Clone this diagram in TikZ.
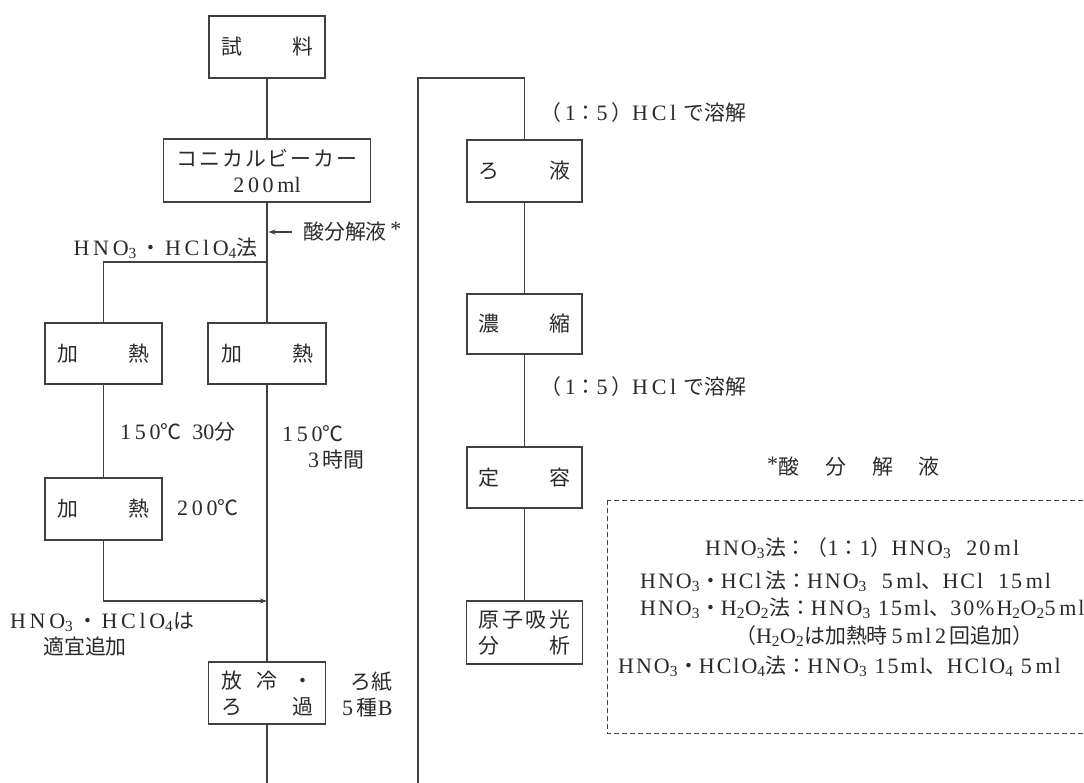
\documentclass[tikz,border=0pt]{standalone}
\usepackage{fontspec}
\setmainfont{Liberation Serif}
\newfontfamily\lsfont{Liberation Serif}[LetterSpace=9]
\newfontfamily\jpfont{Noto Sans CJK JP}[Scale=0.95]
\newcommand\J[1]{{\jpfont #1}}
\newcommand\gp{\hspace{2pt}}
\usetikzlibrary{arrows.meta,calc}
\definecolor{ink}{HTML}{404040}
\definecolor{txt}{HTML}{2A2A2A}
\tikzset{
  box/.style={draw=ink, line width=1.1pt, rectangle, inner sep=0pt, minimum width=117pt, minimum height=62pt, text=txt, align=center, font=\fontsize{22}{26}\selectfont},
  lbl/.style={text=txt, inner sep=0pt, font=\fontsize{22}{26}\selectfont},
  note/.style={lbl, font=\fontsize{22}{26}\lsfont},
  conn/.style={draw=ink, line width=1.1pt},
  arr/.style={conn, -{Stealth[length=7pt,width=5pt]}},
}
\begin{document}
\begin{tikzpicture}[x=1pt,y=-1pt]
\path[use as bounding box, fill=white] (0,0) rectangle (1084,782);
\clip (0,0) rectangle (1084,782);

% left column boxes
\node[box, minimum width=116pt] (s) at (267,47) {\makebox[92pt]{\J{試}\hfill\J{料}}};
\node[box, minimum width=207pt, minimum height=63pt] (c) at (267,170.5) {\J{コ\gp ニ\gp カ\gp ル\gp ビ\gp ー\gp カ\gp ー}\\2\,0\,0\,ml};
\node[box, minimum height=61pt] (lh) at (103.5,353.5) {\makebox[92pt]{\J{加}\hfill\J{熱}}};
\node[box, minimum width=118pt, minimum height=61pt] (rh) at (267,353.5) {\makebox[92pt]{\J{加}\hfill\J{熱}}};
\node[box] (lh2) at (103.5,509) {\makebox[92pt]{\J{加}\hfill\J{熱}}};
\node[box] (pc) at (267,693) {\makebox[92pt]{\J{放}\hfill\J{冷}\hfill\J{・}}\\\makebox[92pt]{\J{ろ}\hfill\J{過}}};

% right column boxes
\node[box, minimum width=115pt] (rf) at (524.5,171) {\makebox[92pt]{\J{ろ}\hfill\J{液}}};
\node[box, minimum width=115pt, minimum height=60pt] (nk) at (524.5,324) {\makebox[92pt]{\J{濃}\hfill\J{縮}}};
\node[box, minimum width=115pt, minimum height=61pt] (ty) at (524.5,477.5) {\makebox[92pt]{\J{定}\hfill\J{容}}};
\node[box, minimum width=116pt, minimum height=63pt] (ab) at (524.5,632.5) {\makebox[92pt]{\J{原}\hfill\J{子}\hfill\J{吸}\hfill\J{光}}\\\makebox[92pt]{\J{分}\hfill\J{析}}};

% coordinates
\coordinate (br) at (267,262);
\coordinate (mg) at (267,601);
\coordinate (ain) at (268.5,232);
\coordinate (bot1) at (267,795);
\coordinate (bot2) at (418,795);
\coordinate (top2) at (418,78);

% connectors
\draw[conn] (s) -- (c);
\draw[conn] (c) -- (br) -- (rh);
\draw[conn] (br) -| (lh);
\draw[conn] (lh) -- (lh2);
\draw[arr] (lh2) |- (mg);
\draw[conn] (rh) -- (pc);
\draw[conn] (pc) -- (bot1);
\draw[conn] (bot2) -- (top2) -| (rf);
\draw[conn] (rf) -- (nk);
\draw[conn] (nk) -- (ty);
\draw[conn] (ty) -- (ab);

% labels
\node[lbl, anchor=west] (acid) at (303,232) {\J{酸分解液}\,\raisebox{3pt}{*}};
\draw[arr] ([xshift=-11pt]acid.west) -- (ain);
\node[lbl, anchor=east] (m1) at (258,248) {H\,N\,O\textsubscript{3}\,\J{・}\,H\,C\,l\,O\textsubscript{4}\J{法}};
\node[lbl, anchor=west] (t1) at (120,432) {1\,5\,0\J{℃}\ \ 30\J{分}};
\node[lbl, anchor=west] (t2) at (282,434) {1\,5\,0\J{℃}};
\node[lbl, anchor=west] (t3) at (308,460) {3\,\J{時間}};
\node[lbl, anchor=west] (t4) at (177,508) {2\,0\,0\J{℃}};
\node[lbl, anchor=west] (m2) at (10,622) {H\,N\,O\textsubscript{3}\,\J{・}\,H\,C\,l\,O\textsubscript{4}\J{は}};
\node[lbl, anchor=west] (m3) at (43,647) {\J{適宜追加}};
\node[lbl, anchor=west] (f1) at (350,682) {\J{ろ紙}};
\node[lbl, anchor=west] (f2) at (342,708) {5\,\J{種}B};
\node[lbl, anchor=west] (d1) at (540,113) {\J{（}\,1\J{：}5\,\J{）}H\,C\,l\,\,\J{で溶解}};
\node[lbl, anchor=west] (d2) at (540,387) {\J{（}\,1\J{：}5\,\J{）}H\,C\,l\,\,\J{で溶解}};

% footnote box
\node[lbl, anchor=west] (fh) at (767,467) {\raisebox{3pt}{*}\J{酸}\hspace{26pt}\J{分}\hspace{26pt}\J{解}\hspace{26pt}\J{液}};
\draw[draw=ink, line width=1pt, dash pattern=on 5pt off 3pt] (607,500) rectangle (1100,733);
\node[note, anchor=west] (L1) at (705,548) {HNO\textsubscript{3}\J{法：（}1\J{：}1\J{）}HNO\textsubscript{3}\ \ 20\,ml};
\node[note, anchor=west] (L2) at (640,581) {HNO\textsubscript{3}\J{・}HCl\,\J{法：}HNO\textsubscript{3}\ \ 5\,ml\J{、}HCl\ \ 15\,ml};
\node[note, anchor=west] (L3) at (640,608) {HNO\textsubscript{3}\J{・}H\textsubscript{2}O\textsubscript{2}\J{法：}HNO\textsubscript{3}\ 15ml\J{、}30\%H\textsubscript{2}O\textsubscript{2}5\,ml};
\node[note, anchor=west] (L4) at (735,636) {\J{（}H\textsubscript{2}O\textsubscript{2}\J{は加熱時}\,5\,ml\,2\,\J{回追加}\J{）}};
\node[note, anchor=west] (L5) at (618,666) {HNO\textsubscript{3}\J{・}HClO\textsubscript{4}\J{法：}HNO\textsubscript{3}\ 15ml\J{、}HClO\textsubscript{4}\ 5\,ml};
\end{tikzpicture}
\end{document}
